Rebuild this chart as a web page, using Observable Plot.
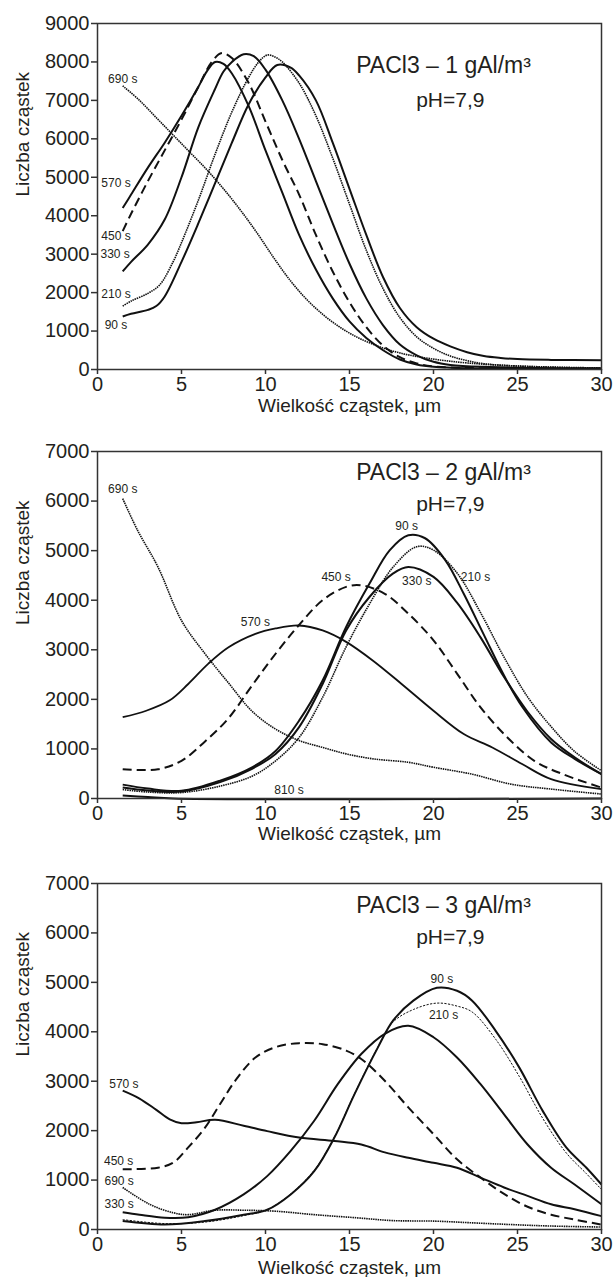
<!DOCTYPE html>
<html><head><meta charset="utf-8">
<script src="https://cdn.jsdelivr.net/npm/d3@7"></script>
<script src="https://cdn.jsdelivr.net/npm/@observablehq/plot@0.6"></script>
<style>
body{margin:0;background:#fff;}
#chart svg{display:block;}
</style>
</head><body><div id="chart"></div>
<script>
// ---------- shared axes ----------
const xTicks = [0, 5, 10, 15, 20, 25, 30];
const yTicks1 = [0, 1000, 2000, 3000, 4000, 5000, 6000, 7000, 8000, 9000];
const yTicks23 = [0, 1000, 2000, 3000, 4000, 5000, 6000, 7000];
const xTitle = "Wielkość cząstek, µm";
const yTitle = "Liczba cząstek";
const titles = ["PACl3 – 1 gAl/m³", "PACl3 – 2 gAl/m³", "PACl3 – 3 gAl/m³"];
const phText = "pH=7,9";

// ---------- panel 1: PACl3 – 1 gAl/m3 ----------
const p1_90  = [[1.5,1380],[2,1450],[3,1550],[3.5,1650],[4,1900],[5,2800],[6,3800],[7,4850],[8,5900],[9,6900],[10,7600],[10.7,7920],[11.5,7850],[12,7650],[13,7000],[14,5900],[15,4700],[16,3500],[17,2400],[18,1600],[19,1100],[20,800],[21,600],[22,450],[23,350],[24,300],[25,270],[27,250],[30,240]];
const p1_210 = [[1.5,1650],[2,1780],[3,1980],[3.7,2200],[4.5,2800],[5,3300],[6,4400],[7,5600],[8,6700],[9,7600],[9.6,8000],[10.1,8180],[10.6,8120],[11,8000],[12,7450],[13,6600],[14,5500],[15,4300],[16,3100],[17,2100],[18,1350],[19,850],[20,550],[21,350],[22,230],[23,150],[25,90],[30,40]];
const p1_330 = [[1.5,2550],[2,2800],[3,3250],[4,3900],[5,5000],[6,6300],[7,7300],[7.5,7750],[8,8000],[8.7,8200],[9.3,8150],[10,7800],[11,7000],[12,6000],[13,4900],[14,3800],[15,2750],[16,1850],[17,1150],[18,650],[19,370],[20,200],[21,120],[23,70],[30,30]];
const p1_450 = [[1.5,3600],[2,4050],[3,4900],[4,5700],[5,6500],[6,7350],[6.8,8000],[7.4,8230],[8,8100],[9,7450],[10,6450],[11,5450],[12,4550],[13,3500],[14,2550],[15,1750],[16,1100],[17,620],[18,320],[19,160],[20,80],[22,40],[30,20]];
const p1_570 = [[1.5,4200],[2,4550],[3,5250],[4,5900],[5,6600],[6,7350],[6.5,7750],[7,8000],[7.5,7950],[8,7700],[9,6850],[10,5700],[11,4600],[12,3500],[13,2600],[14,1850],[15,1250],[16,820],[17,500],[18,260],[19,130],[20,70],[22,30],[30,10]];
const p1_690 = [[1.5,7380],[2.5,7000],[3.5,6550],[4.5,6100],[5.5,5650],[6.5,5200],[7.5,4700],[8.5,4150],[9.5,3550],[10.5,2900],[11.5,2300],[12.5,1800],[13.5,1400],[14.5,1080],[15.5,830],[16.5,640],[17.5,490],[18.5,380],[20,270],[22,170],[25,90],[30,20]];
const p1_labelText = ["690 s","570 s","450 s","330 s","210 s","90 s"];
const p1_labelX = [1.5, 1.1, 1.1, 1.05, 1.1, 1.1];
const p1_labelY = [7550, 4840, 3480, 3010, 1970, 1160];

// ---------- panel 2: PACl3 – 2 gAl/m3 ----------
const p2_90  = [[1.5,280],[3,200],[5,155],[7.3,360],[9.2,630],[10.6,960],[12,1570],[13.4,2380],[14.8,3460],[16.2,4340],[17.4,5010],[18.5,5310],[19.5,5250],[20.7,4810],[21.8,4130],[23,3300],[24.2,2480],[25.3,1840],[27,1130],[28.4,800],[30,490]];
const p2_210 = [[1.5,180],[3,130],[5,120],[7.3,250],[9.2,450],[10.6,760],[12,1230],[13.4,2040],[14.8,3060],[16.2,3930],[17.6,4670],[19,5080],[20,5010],[21.4,4550],[22.8,3750],[24.2,2850],[25.6,2050],[27,1450],[28.4,950],[30,560]];
const p2_330 = [[1.5,220],[3,160],[5,140],[7.3,330],[9.2,600],[10.6,900],[12,1440],[13.4,2310],[14.8,3390],[16.2,4070],[17.6,4540],[18.5,4670],[20,4470],[21.4,3950],[22.8,3250],[24.2,2450],[25.6,1750],[27,1200],[28.4,830],[30,490]];
const p2_450 = [[1.5,590],[3.6,590],[5,760],[6.4,1150],[7.8,1620],[9.2,2280],[10.6,2920],[12,3500],[13.4,4000],[14.8,4270],[15.7,4300],[17.1,4130],[18.5,3730],[20,3190],[21.4,2520],[22.8,1840],[24.4,1230],[26,760],[27.7,490],[30,220]];
const p2_570 = [[1.5,1640],[2.9,1770],[4.3,1980],[5.4,2310],[6.6,2720],[7.8,3050],[9.4,3320],[10.6,3430],[12,3490],[13.4,3390],[14.8,3160],[16.4,2780],[18.1,2310],[20,1770],[21.8,1300],[23.5,1030],[25.3,690],[27,390],[30,190]];
const p2_690 = [[1.5,6050],[2.4,5400],[3.6,4670],[5,3590],[6.4,2920],[7.8,2330],[9.2,1760],[10.6,1400],[12,1170],[13.4,1030],[14.8,900],[16.4,800],[18.5,730],[20,630],[22.3,490],[24.6,290],[27,190],[30,90]];
const p2_810 = [[1.5,60],[3,30],[4.5,0],[30,0]];
const p2_labelText = ["690 s","90 s","450 s","330 s","210 s","570 s","810 s"];
const p2_labelX = [1.5, 18.4, 14.2, 19.0, 22.5, 9.4, 11.4];
const p2_labelY = [6240, 5500, 4470, 4390, 4470, 3560, 170];

// ---------- panel 3: PACl3 – 3 gAl/m3 ----------
const p3_90  = [[1.5,170],[4,100],[6.4,170],[8.7,300],[10.1,400],[11.5,710],[12.9,1180],[14.1,1860],[15.3,2740],[16.7,3690],[17.6,4230],[18.8,4630],[20.2,4890],[21.4,4830],[22.3,4630],[23.7,4020],[25.1,3280],[26.5,2400],[27.9,1660],[29.1,1250],[30,910]];
const p3_210 = [[1.5,200],[4,120],[6.4,150],[8.7,280],[10.1,400],[11.5,720],[12.9,1200],[14.1,1870],[15.3,2750],[16.7,3700],[17.6,4200],[18.8,4450],[20.2,4580],[21.4,4520],[22.3,4400],[23.7,3850],[25.1,3100],[26.5,2250],[27.9,1550],[29.1,1130],[30,810]];
const p3_330 = [[1.5,350],[2.5,300],[4,240],[5.4,250],[7,400],[8.7,710],[10.1,1080],[11.5,1590],[12.9,2200],[14.3,2940],[15.7,3550],[17.1,3960],[18.5,4120],[20,3890],[21.4,3480],[22.8,2940],[24.2,2330],[25.6,1720],[27,1250],[28.4,910],[30,510]];
const p3_450 = [[1.5,1220],[3.6,1250],[4.5,1350],[5.4,1660],[6.4,2060],[7.3,2540],[8.2,3010],[9.4,3480],[10.6,3690],[12,3770],[13.4,3750],[14.8,3620],[15.7,3450],[17.1,3010],[18.5,2470],[20,1930],[21.4,1420],[22.8,1050],[24.2,720],[25.6,460],[27,300],[28.4,200],[30,100]];
const p3_570 = [[1.5,2810],[2.5,2650],[3.5,2420],[4.3,2230],[5,2150],[5.9,2170],[7,2220],[8.7,2100],[10.1,1990],[12,1860],[14.1,1790],[15.7,1720],[17.1,1560],[18.5,1450],[20,1350],[21.4,1250],[22.8,1050],[24.2,850],[25.6,680],[27,510],[28.4,410],[30,270]];
const p3_690 = [[1.5,850],[3.1,510],[4.5,340],[5.4,300],[7,390],[8.7,390],[10.6,370],[12.9,300],[15.3,240],[17.6,180],[20,170],[22.3,135],[24.6,100],[27,70],[30,50]];
const p3_labelText = ["90 s","210 s","570 s","450 s","690 s","330 s"];
const p3_labelX = [20.5, 20.6, 1.57, 1.26, 1.29, 1.29];
const p3_labelY = [5070, 4330, 2940, 1390, 980, 510];

// ---------- styles ----------
const INK = "#231f20";
const solid = {strokeWidth: 2};
const dashed = {strokeWidth: 2, strokeDasharray: "9,5"};
const dotted = {strokeWidth: 1.6, strokeDasharray: "1.5,0.8"};
const fineDash = {strokeWidth: 1, strokeDasharray: "2.2,1.4"};

function panel(cfg) {
  const labels = cfg.labelText.map((t, i) => ({t, x: cfg.labelX[i], y: cfg.labelY[i]}));
  const marks = [
    ...cfg.series.map(([data, st]) => Plot.line(data, {
      x: d => d[0], y: d => d[1], curve: "catmull-rom", stroke: "#111",
      strokeLinecap: "butt", ...st
    })),
    Plot.frame({stroke: "#333", strokeWidth: 1.5}),
    Plot.axisX({ticks: xTicks, tickSize: 5, tickPadding: 2, label: null, fontSize: 20, stroke: "#333", strokeWidth: 1.5}),
    Plot.axisY({ticks: cfg.yTicks, tickSize: 6, tickPadding: 2, tickFormat: d => String(d), label: null, fontSize: 20, stroke: "#333", strokeWidth: 1.5}),
    Plot.text(labels, {x: "x", y: "y", text: "t", fontSize: 12, fill: INK}),
    Plot.text([cfg.title], {x: 20.6, frameAnchor: "top", lineAnchor: "middle", dy: cfg.titleDy, fontSize: 23, fill: INK}),
    Plot.text([phText], {x: 21.0, frameAnchor: "top", lineAnchor: "middle", dy: cfg.phDy, fontSize: 21, fill: INK}),
    Plot.text([xTitle], {frameAnchor: "bottom", lineAnchor: "middle", dy: cfg.xTitleDy, fontSize: 19, fill: INK}),
    Plot.text([yTitle], {frameAnchor: "left", dx: -75, rotate: -90, fontSize: 19, fill: INK})
  ];
  return Plot.plot({
    width: 614, height: cfg.height,
    marginLeft: 97, marginRight: 13, marginTop: cfg.mt, marginBottom: cfg.mb,
    x: {domain: [0, 30]},
    y: {domain: [0, cfg.yMax]},
    style: {fontFamily: "'Liberation Sans', Arial, sans-serif", color: INK, background: "#fff", overflow: "visible"},
    marks
  });
}

const chart = document.getElementById("chart");
chart.append(panel({
  height: 425, mt: 23, mb: 56, yMax: 9000, yTicks: yTicks1, title: titles[0], titleDy: 42, phDy: 77, xTitleDy: 36,
  series: [[p1_690, dotted], [p1_90, solid], [p1_210, dotted], [p1_330, solid], [p1_450, dashed], [p1_570, solid]],
  labelText: p1_labelText, labelX: p1_labelX, labelY: p1_labelY
}));
chart.append(panel({
  height: 425, mt: 26, mb: 52, yMax: 7000, yTicks: yTicks23, title: titles[1], titleDy: 21, phDy: 53, xTitleDy: 35,
  series: [[p2_690, dotted], [p2_810, solid], [p2_90, solid], [p2_210, dotted], [p2_330, solid], [p2_450, dashed], [p2_570, {strokeWidth: 1.8}]],
  labelText: p2_labelText, labelX: p2_labelX, labelY: p2_labelY
}));
chart.append(panel({
  height: 427, mt: 33, mb: 48, yMax: 7000, yTicks: yTicks23, title: titles[2], titleDy: 22, phDy: 54, xTitleDy: 38,
  series: [[p3_690, dotted], [p3_90, solid], [p3_210, fineDash], [p3_330, solid], [p3_450, dashed], [p3_570, solid]],
  labelText: p3_labelText, labelX: p3_labelX, labelY: p3_labelY
}));
</script></body></html>
